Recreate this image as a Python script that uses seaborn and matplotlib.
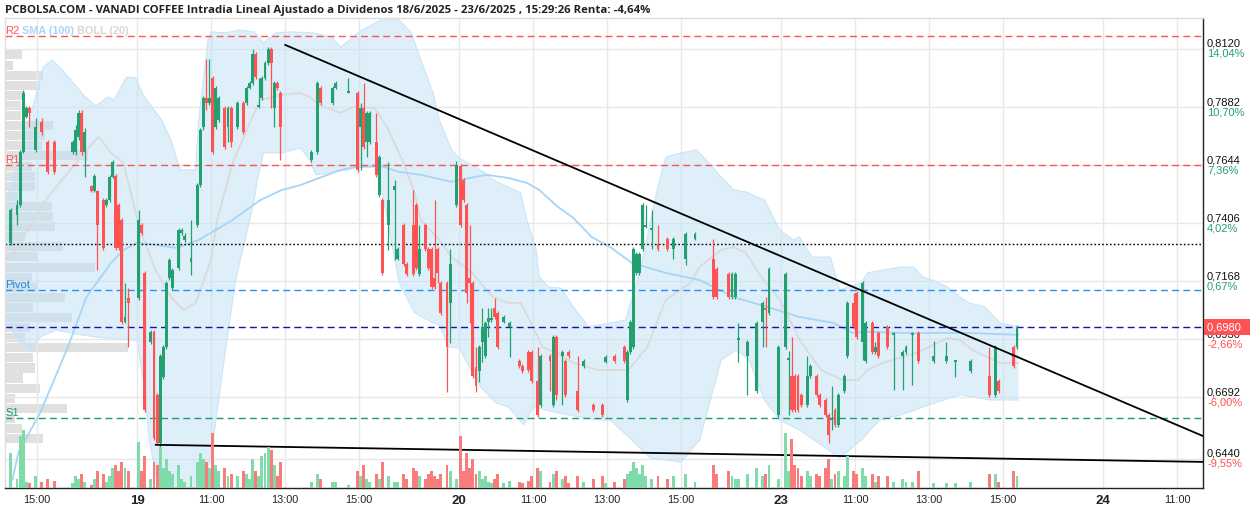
import numpy as np
import pandas as pd
import matplotlib
matplotlib.use("Agg")
import matplotlib.pyplot as plt
from matplotlib import transforms
import seaborn as sns

# ---------------------------------------------------------------- data
candle_time = [
    # 18/6
    "18 14:15", "18 14:25", "18 14:30", "18 14:35", "18 14:40", "18 14:45", "18 14:55", "18 15:05", "18 15:15",
    "18 15:25", "18 15:55", "18 16:00", "18 16:05", "18 16:10", "18 16:15", "18 16:25", "18 16:30", "18 16:35",
    "18 16:45", "18 16:50", "18 16:55", "18 17:00", "18 17:05", "18 17:10", "18 17:15", "18 17:20", "18 17:25",
    # 19/6
    "19 09:00", "19 09:05", "19 09:10", "19 09:20", "19 09:25", "19 09:30", "19 09:35", "19 09:40", "19 09:45",
    "19 09:50", "19 09:55", "19 10:05", "19 10:10", "19 10:15", "19 10:25", "19 10:35", "19 10:40", "19 10:45",
    "19 10:50", "19 10:55", "19 11:00", "19 11:05", "19 11:10", "19 11:20", "19 11:25", "19 11:30", "19 11:40",
    "19 11:50", "19 11:55", "19 12:00", "19 12:05", "19 12:10", "19 12:15", "19 12:20", "19 12:25", "19 12:30",
    "19 12:35", "19 12:40", "19 12:45", "19 12:50", "19 13:40", "19 13:50", "19 13:55", "19 14:15", "19 14:20",
    "19 14:40", "19 14:55", "19 15:00", "19 15:05", "19 15:10", "19 15:15", "19 15:25", "19 15:30", "19 15:35",
    "19 15:45", "19 15:55", "19 16:00", "19 16:10", "19 16:15", "19 16:25", "19 16:30", "19 16:35", "19 16:45",
    "19 16:50", "19 16:55", "19 17:00", "19 17:05", "19 17:10", "19 17:20", "19 17:25", "19 17:35",
    # 20/6
    "20 09:00", "20 09:05", "20 09:10", "20 09:15", "20 09:20", "20 09:25", "20 09:30", "20 09:35", "20 09:40",
    "20 09:45", "20 09:50", "20 09:55", "20 10:00", "20 10:10", "20 10:20", "20 10:35", "20 10:40", "20 10:50",
    "20 10:55", "20 11:05", "20 11:10", "20 11:25", "20 11:30", "20 11:35", "20 11:45", "20 11:50", "20 11:55",
    "20 12:10", "20 12:20", "20 12:35", "20 12:50", "20 12:55", "20 13:10", "20 13:25", "20 13:30", "20 13:35",
    "20 13:40", "20 13:45", "20 13:50", "20 13:55", "20 14:00", "20 14:10", "20 14:20", "20 14:35", "20 14:45",
    "20 15:05", "20 15:20", "20 15:50", "20 15:55", "20 16:15", "20 16:20", "20 16:25", "20 16:30", "20 16:45",
    "20 17:00", "20 17:10", "20 17:15", "20 17:20", "20 17:35",
    # 23/6
    "23 09:05", "23 09:10", "23 09:15", "23 09:20", "23 09:25", "23 09:30", "23 09:40", "23 09:45", "23 09:55",
    "23 10:00", "23 10:10", "23 10:15", "23 10:20", "23 10:25", "23 10:30", "23 10:40", "23 10:45", "23 10:55",
    "23 11:00", "23 11:10", "23 11:15", "23 11:25", "23 11:30", "23 11:35", "23 11:50", "23 12:00", "23 12:15",
    "23 12:20", "23 12:30", "23 12:40", "23 13:05", "23 13:25", "23 13:40", "23 14:05", "23 14:35", "23 14:45",
    "23 14:50", "23 15:15", "23 15:20",
]

open_price = [
    0.7325, 0.7439, 0.7481, 0.7698, 0.7841, 0.7878, 0.7706, 0.7821, 0.7739, 0.7739, 0.7698, 0.7698, 0.7759, 0.7858,
    0.7698, 0.7558, 0.7538, 0.7538, 0.7501, 0.7481, 0.7501, 0.7595, 0.7599, 0.7481, 0.7419, 0.7001, 0.7099,
    0.7099, 0.7399, 0.7202, 0.6919, 0.6960, 0.6702, 0.6505, 0.6775, 0.6898, 0.7181, 0.7140, 0.7222, 0.7366, 0.7337,
    0.7247, 0.7399, 0.7562, 0.7801, 0.7919, 0.7899, 0.8001, 0.7801, 0.7829, 0.7878, 0.7801, 0.7878, 0.7801, 0.7899,
    0.7899, 0.7960, 0.7981, 0.8100, 0.7882, 0.7919, 0.8001, 0.8063, 0.8120, 0.7878, 0.7981, 0.7940, 0.7665, 0.7698,
    0.7960, 0.7899, 0.7960, 0.7940, 0.7940, 0.7801, 0.7878, 0.7739, 0.7739, 0.7739, 0.7521, 0.7501, 0.7399, 0.7542,
    0.7259, 0.7399, 0.7239, 0.7399, 0.7481, 0.7198, 0.7399, 0.7300, 0.7300, 0.7181, 0.7300, 0.7161, 0.7161, 0.7079,
    0.7481,
    0.7640, 0.7583, 0.7481, 0.7181, 0.7161, 0.6816, 0.6800, 0.6919, 0.6861, 0.7001, 0.7009, 0.7058, 0.7038, 0.7001,
    0.6980, 0.6841, 0.6820, 0.6878, 0.6878, 0.6759, 0.6661, 0.6861, 0.6661, 0.6939, 0.6861, 0.6841, 0.6878, 0.6718,
    0.6820, 0.6661, 0.6661, 0.6837, 0.6861, 0.6898, 0.6681, 0.6878, 0.6898, 0.7202, 0.7202, 0.7300, 0.7390, 0.7378,
    0.7321, 0.7341, 0.7300, 0.7259, 0.7341, 0.7259, 0.7218, 0.7198, 0.7103, 0.7103, 0.6927, 0.6861, 0.6718, 0.7001,
    0.7058, 0.7038, 0.6620,
    0.6898, 0.6845, 0.6779, 0.6779, 0.6779, 0.6702, 0.6661, 0.6779, 0.6779, 0.6702, 0.6681, 0.6620, 0.6599, 0.6640,
    0.6579, 0.6718, 0.6861, 0.7079, 0.7120, 0.6919, 0.6841, 0.6997, 0.6878, 0.6956, 0.6980, 0.6948, 0.6861, 0.6878,
    0.6948, 0.6956, 0.6841, 0.6841, 0.6837, 0.6800, 0.6779, 0.6702, 0.6759, 0.6898, 0.6898,
]

high_price = [
    0.7468, 0.7501, 0.7706, 0.7952, 0.7886, 0.7886, 0.7837, 0.7837, 0.7747, 0.7747, 0.7747, 0.7809, 0.7870, 0.7870,
    0.7796, 0.7562, 0.7608, 0.7542, 0.7509, 0.7509, 0.7604, 0.7665, 0.7608, 0.7489, 0.7427, 0.7161, 0.7140,
    0.7460, 0.7407, 0.7210, 0.6968, 0.6968, 0.6710, 0.6870, 0.6907, 0.7169, 0.7263, 0.7222, 0.7386, 0.7386, 0.7366,
    0.7419, 0.7571, 0.7796, 0.7927, 0.8079, 0.8079, 0.8009, 0.7968, 0.7927, 0.7886, 0.7886, 0.7886, 0.7907, 0.7907,
    0.7968, 0.7989, 0.8120, 0.8108, 0.8001, 0.8009, 0.8071, 0.8128, 0.8128, 0.7989, 0.7989, 0.7948, 0.7706, 0.7989,
    0.7968, 0.7968, 0.7989, 0.8001, 0.7948, 0.7899, 0.7981, 0.7866, 0.7866, 0.7858, 0.7686, 0.7509, 0.7657, 0.7583,
    0.7308, 0.7407, 0.7247, 0.7542, 0.7489, 0.7399, 0.7407, 0.7308, 0.7308, 0.7501, 0.7308, 0.7169, 0.7169, 0.7300,
    0.7661,
    0.7649, 0.7591, 0.7489, 0.7399, 0.7169, 0.6898, 0.6907, 0.7058, 0.7005, 0.7058, 0.7058, 0.7099, 0.7046, 0.7030,
    0.7005, 0.6849, 0.6829, 0.6886, 0.6886, 0.6898, 0.6870, 0.6870, 0.6948, 0.6948, 0.6886, 0.6849, 0.6886, 0.6861,
    0.6849, 0.6669, 0.6669, 0.6866, 0.6870, 0.6907, 0.6886, 0.7009, 0.7308, 0.7288, 0.7288, 0.7489, 0.7481, 0.7460,
    0.7399, 0.7349, 0.7349, 0.7370, 0.7370, 0.7341, 0.7226, 0.7206, 0.7206, 0.7206, 0.6997, 0.6927, 0.7005, 0.7087,
    0.7103, 0.7226, 0.6907,
    0.7206, 0.6882, 0.6939, 0.6788, 0.6788, 0.6710, 0.6861, 0.6829, 0.6788, 0.6710, 0.6690, 0.6628, 0.6739, 0.6649,
    0.6710, 0.6788, 0.7087, 0.7120, 0.7128, 0.7169, 0.7005, 0.7005, 0.6919, 0.6964, 0.6989, 0.6960, 0.6886, 0.6907,
    0.6960, 0.6964, 0.6923, 0.6919, 0.6845, 0.6849, 0.6898, 0.6907, 0.6767, 0.6907, 0.6989,
]

low_price = [
    0.7317, 0.7399, 0.7472, 0.7694, 0.7837, 0.7801, 0.7698, 0.7767, 0.7608, 0.7608, 0.7690, 0.7686, 0.7747, 0.7686,
    0.7595, 0.7534, 0.7534, 0.7214, 0.7296, 0.7472, 0.7493, 0.7591, 0.7296, 0.7296, 0.6993, 0.6997, 0.6898,
    0.7091, 0.7358, 0.6632, 0.6911, 0.6517, 0.6497, 0.6443, 0.6767, 0.6890, 0.7173, 0.7132, 0.7214, 0.7358, 0.7329,
    0.7194, 0.7390, 0.7554, 0.7788, 0.7870, 0.7891, 0.7690, 0.7792, 0.7821, 0.7710, 0.7739, 0.7718, 0.7792, 0.7772,
    0.7891, 0.7956, 0.7972, 0.7997, 0.7878, 0.7911, 0.7993, 0.8055, 0.7878, 0.7801, 0.7952, 0.7665, 0.7657, 0.7690,
    0.7891, 0.7891, 0.7956, 0.7940, 0.7616, 0.7624, 0.7710, 0.7677, 0.7731, 0.7595, 0.7513, 0.7194, 0.7296, 0.7255,
    0.7255, 0.7230, 0.7190, 0.7190, 0.7214, 0.7190, 0.7292, 0.7214, 0.7136, 0.7136, 0.7161, 0.7030, 0.6714, 0.6915,
    0.7472,
    0.7390, 0.7493, 0.7079, 0.6997, 0.6771, 0.6714, 0.6755, 0.6837, 0.6853, 0.6939, 0.7001, 0.7013, 0.6890, 0.6997,
    0.6857, 0.6812, 0.6792, 0.6796, 0.6751, 0.6612, 0.6653, 0.6718, 0.6653, 0.6681, 0.6661, 0.6694, 0.6853, 0.6632,
    0.6812, 0.6632, 0.6612, 0.6833, 0.6833, 0.6833, 0.6673, 0.6870, 0.6890, 0.7194, 0.7194, 0.7292, 0.7386, 0.7300,
    0.7292, 0.7292, 0.7259, 0.7235, 0.7337, 0.7095, 0.7095, 0.7095, 0.7095, 0.7095, 0.6837, 0.6702, 0.6710, 0.6898,
    0.6898, 0.7030, 0.6612,
    0.6890, 0.6620, 0.6632, 0.6632, 0.6632, 0.6653, 0.6653, 0.6771, 0.6694, 0.6653, 0.6612, 0.6505, 0.6558, 0.6570,
    0.6570, 0.6710, 0.6853, 0.6972, 0.6931, 0.6845, 0.6833, 0.6870, 0.6870, 0.6853, 0.6890, 0.6722, 0.6722, 0.6870,
    0.6743, 0.6833, 0.6833, 0.6833, 0.6775, 0.6792, 0.6694, 0.6694, 0.6710, 0.6812, 0.6890,
]

close_price = [
    0.7460, 0.7481, 0.7698, 0.7940, 0.7878, 0.7858, 0.7801, 0.7780, 0.7616, 0.7616, 0.7739, 0.7788, 0.7858, 0.7698,
    0.7780, 0.7538, 0.7599, 0.7399, 0.7304, 0.7501, 0.7595, 0.7657, 0.7304, 0.7304, 0.7001, 0.7021, 0.7079,
    0.7419, 0.7366, 0.6640, 0.6960, 0.6525, 0.6505, 0.6861, 0.6898, 0.7161, 0.7255, 0.7214, 0.7378, 0.7378, 0.7353,
    0.7263, 0.7562, 0.7788, 0.7919, 0.7899, 0.7919, 0.7698, 0.7960, 0.7919, 0.7718, 0.7878, 0.7739, 0.7899, 0.7780,
    0.7960, 0.7981, 0.8100, 0.8005, 0.7891, 0.8001, 0.8063, 0.8120, 0.8063, 0.7981, 0.7960, 0.7801, 0.7698, 0.7981,
    0.7899, 0.7960, 0.7981, 0.7948, 0.7624, 0.7878, 0.7718, 0.7858, 0.7858, 0.7604, 0.7677, 0.7202, 0.7501, 0.7558,
    0.7300, 0.7239, 0.7198, 0.7198, 0.7222, 0.7300, 0.7300, 0.7222, 0.7144, 0.7144, 0.7202, 0.7038, 0.6898, 0.7239,
    0.7645,
    0.7399, 0.7501, 0.7120, 0.7161, 0.6779, 0.6739, 0.6898, 0.6980, 0.6997, 0.7017, 0.7017, 0.7021, 0.6898, 0.7021,
    0.6997, 0.6820, 0.6800, 0.6804, 0.6759, 0.6620, 0.6861, 0.6841, 0.6939, 0.6702, 0.6878, 0.6702, 0.6861, 0.6640,
    0.6841, 0.6640, 0.6620, 0.6857, 0.6841, 0.6841, 0.6878, 0.7001, 0.7300, 0.7280, 0.7280, 0.7481, 0.7399, 0.7386,
    0.7300, 0.7300, 0.7341, 0.7362, 0.7362, 0.7103, 0.7103, 0.7103, 0.7198, 0.7198, 0.6935, 0.6919, 0.6997, 0.7079,
    0.7050, 0.7218, 0.6898,
    0.7198, 0.6853, 0.6640, 0.6640, 0.6640, 0.6661, 0.6779, 0.6820, 0.6702, 0.6661, 0.6620, 0.6537, 0.6607, 0.6579,
    0.6702, 0.6779, 0.7079, 0.6980, 0.6939, 0.7161, 0.6997, 0.6878, 0.6898, 0.6861, 0.6898, 0.6956, 0.6878, 0.6898,
    0.6956, 0.6841, 0.6861, 0.6861, 0.6845, 0.6841, 0.6702, 0.6898, 0.6718, 0.6820, 0.6980,
]

volume = [
    60, 15, 90, 100, 10, 8, 20, 10, 15, 12, 8, 20, 15, 25, 10, 6, 15, 30, 25, 10, 20, 35, 40, 30, 45, 35, 30,
    80, 30, 55, 15, 45, 40, 70, 35, 50, 30, 25, 40, 15, 10, 20, 45, 60, 50, 45, 35, 95, 40, 30, 35, 20, 25, 20, 30,
    25, 15, 50, 30, 20, 55, 60, 70, 65, 40, 20, 45, 10, 25, 15, 10, 10, 5, 30, 20, 40, 15, 10, 25, 15, 45, 20, 10,
    10, 25, 15, 35, 30, 20, 15, 25, 30, 20, 15, 25, 40, 30, 15,
    90, 30, 60, 35, 50, 25, 30, 15, 20, 10, 8, 15, 25, 8, 12, 10, 8, 12, 20, 35, 30, 10, 25, 30, 15, 20, 8, 20, 10,
    15, 20, 8, 10, 15, 25, 30, 45, 35, 25, 40, 20, 15, 20, 15, 20, 25, 10, 40, 25, 30, 20, 15, 15, 25, 35, 20, 25,
    40, 15,
    95, 30, 85, 40, 35, 20, 30, 20, 25, 20, 35, 50, 15, 25, 30, 20, 55, 30, 25, 35, 20, 25, 10, 20, 20, 10, 15, 10,
    10, 30, 8, 8, 8, 10, 25, 25, 10, 30, 20,
]

# Bollinger (20) envelope and middle line, SMA (100)
bb_upper_time = [
    "18 14:10", "18 14:25", "18 14:40", "18 14:55", "18 15:10", "18 15:25", "18 15:55", "18 16:15", "18 16:35",
    "18 16:55", "18 17:05", "18 17:25", "18 17:40", "19 09:10", "19 09:25", "19 09:40", "19 09:55", "19 10:10",
    "19 10:35", "19 10:40", "19 10:55", "19 11:00", "19 11:25", "19 11:45", "19 12:10", "19 12:25", "19 12:45",
    "19 13:10", "19 13:45", "19 14:15", "19 14:30", "19 14:45", "19 15:00", "19 15:35", "19 16:05", "19 16:25",
    "19 16:40", "19 17:00", "19 17:10", "19 17:30", "20 09:00", "20 09:40", "20 09:55", "20 10:40", "20 10:50",
    "20 11:05", "20 11:10", "20 11:25", "20 11:45", "20 12:05", "20 12:30", "20 13:05", "20 13:30", "20 13:55",
    "20 14:20", "20 14:35", "20 15:00", "20 15:25", "20 15:45", "20 16:05", "20 16:25", "20 16:45", "20 17:15",
    "20 17:40", "23 09:20", "23 09:30", "23 09:50", "23 10:20", "23 10:35", "23 11:10", "23 11:20", "23 11:45",
    "23 12:15", "23 12:35", "23 12:50", "23 13:05", "23 13:30", "23 13:50", "23 14:05", "23 14:30", "23 14:55",
    "23 15:25",
]
bb_upper = [
    0.7501, 0.7624, 0.7767, 0.7899, 0.8046, 0.8075, 0.7993, 0.7931, 0.7886, 0.7923, 0.7911, 0.8005, 0.8001,
    0.7931, 0.7878, 0.7829, 0.7747, 0.7624, 0.7624, 0.7829, 0.8157, 0.8190, 0.8186, 0.8198, 0.8190, 0.8145,
    0.8186, 0.8190, 0.8186, 0.8169, 0.8128, 0.8157, 0.8190, 0.8239, 0.8239, 0.8186, 0.8075, 0.7940, 0.7829,
    0.7706, 0.7673, 0.7616, 0.7583, 0.7530, 0.7419, 0.7296, 0.7185, 0.7144, 0.7140, 0.7063, 0.6980, 0.6997,
    0.7009, 0.7226, 0.7530, 0.7677, 0.7694, 0.7706, 0.7653, 0.7595, 0.7542, 0.7534, 0.7501, 0.7378, 0.7337,
    0.7349, 0.7267, 0.7267, 0.7132, 0.7161, 0.7202, 0.7214, 0.7226, 0.7226, 0.7185, 0.7173, 0.7144, 0.7103,
    0.7079, 0.7063, 0.6997, 0.6980,
]

bb_lower_time = [
    "18 14:10", "18 14:30", "18 14:50", "18 15:05", "18 15:30", "18 16:10", "18 16:50", "18 17:30", "19 09:00",
    "19 09:10", "19 09:20", "19 09:35", "19 10:10", "19 10:40", "19 10:55", "19 11:05", "19 11:25", "19 11:40",
    "19 12:10", "19 12:15", "19 12:25", "19 12:55", "19 13:25", "19 13:40", "19 13:50", "19 14:10", "19 14:40",
    "19 15:00", "19 15:30", "19 15:40", "19 16:05", "19 16:30", "19 17:00", "19 17:10", "19 17:25", "20 09:00",
    "20 09:35", "20 10:00", "20 10:20", "20 10:45", "20 11:00", "20 11:40", "20 12:15", "20 12:45", "20 13:05",
    "20 13:40", "20 14:10", "20 15:00", "20 15:30", "20 16:05", "20 16:30", "20 16:50", "20 17:15", "20 17:40",
    "23 09:30", "23 10:05", "23 10:35", "23 11:10", "23 11:40", "23 12:15", "23 13:00", "23 13:50", "23 14:40",
    "23 15:25",
]
bb_lower = [
    0.7009, 0.6915, 0.6878, 0.6939, 0.6968, 0.6948, 0.6935, 0.6927, 0.6927, 0.6763, 0.6517, 0.6312, 0.6250,
    0.6312, 0.6394, 0.6546, 0.6915, 0.7173, 0.7501, 0.7583, 0.7694, 0.7694, 0.7714, 0.7665, 0.7604, 0.7612,
    0.7624, 0.7636, 0.7636, 0.7501, 0.7161, 0.7038, 0.6997, 0.6989, 0.6898, 0.6894, 0.6734, 0.6669, 0.6652,
    0.6579, 0.6652, 0.6628, 0.6612, 0.6599, 0.6599, 0.6517, 0.6443, 0.6427, 0.6517, 0.6845, 0.6886, 0.6845,
    0.6681, 0.6599, 0.6558, 0.6497, 0.6443, 0.6517, 0.6599, 0.6620, 0.6661, 0.6702, 0.6681, 0.6681,
]

bb_mid_time = [
    "18 14:10", "18 14:25", "18 14:45", "18 15:10", "18 15:50", "18 16:20", "18 16:40", "18 17:00", "18 17:20",
    "19 09:05", "19 09:30", "19 09:55", "19 10:15", "19 10:35", "19 11:00", "19 11:10", "19 11:35", "19 12:05",
    "19 12:20", "19 12:55", "19 13:25", "19 13:40", "19 13:55", "19 14:30", "19 14:50", "19 15:25", "19 15:45",
    "19 16:10", "19 16:30", "19 16:40", "19 17:10", "19 17:30", "20 09:00", "20 09:20", "20 09:35", "20 09:55",
    "20 10:20", "20 10:40", "20 11:00", "20 11:15", "20 11:40", "20 12:05", "20 12:45", "20 13:35", "20 14:05",
    "20 14:35", "20 15:15", "20 15:30", "20 16:05", "20 16:25", "20 16:45", "20 17:10", "20 17:40", "23 09:30",
    "23 10:05", "23 10:40", "23 11:05", "23 11:20", "23 11:45", "23 12:40", "23 13:30", "23 13:50", "23 14:10",
    "23 14:55", "23 15:25",
]
bb_mid = [
    0.7255, 0.7296, 0.7378, 0.7489, 0.7612, 0.7706, 0.7759, 0.7694, 0.7653, 0.7378, 0.7214, 0.7103, 0.7050,
    0.7079, 0.7255, 0.7419, 0.7653, 0.7829, 0.7911, 0.7932, 0.7940, 0.7923, 0.7891, 0.7858, 0.7882, 0.7878,
    0.7800, 0.7665, 0.7530, 0.7419, 0.7337, 0.7267, 0.7243, 0.7206, 0.7161, 0.7103, 0.7079, 0.7079, 0.6980,
    0.6898, 0.6874, 0.6833, 0.6804, 0.6804, 0.6898, 0.7091, 0.7161, 0.7226, 0.7296, 0.7308, 0.7284, 0.7185,
    0.7091, 0.6927, 0.6804, 0.6763, 0.6763, 0.6804, 0.6833, 0.6874, 0.6935, 0.6927, 0.6886, 0.6833, 0.6833,
]

sma_time = [
    "18 14:20", "18 14:30", "18 15:05", "18 15:50", "18 16:20", "18 17:00", "18 17:20", "19 09:00", "19 09:30",
    "19 10:05", "19 10:40", "19 11:35", "19 12:20", "19 12:55", "19 13:25", "19 13:55", "19 14:30", "19 14:55",
    "19 15:35", "19 16:05", "19 16:40", "19 17:30", "20 09:00", "20 09:45", "20 10:20", "20 10:50", "20 11:10",
    "20 11:40", "20 12:05", "20 12:35", "20 13:05", "20 13:40", "20 14:35", "20 15:30", "20 16:25", "20 17:20",
    "23 09:30", "23 10:25", "23 10:55", "23 11:20", "23 12:15", "23 14:00", "23 15:25",
]
sma = [
    0.6353, 0.6468, 0.6628, 0.6898, 0.7103, 0.7243, 0.7296, 0.7325, 0.7317, 0.7304, 0.7337, 0.7419, 0.7501,
    0.7542, 0.7562, 0.7591, 0.7624, 0.7636, 0.7640, 0.7616, 0.7604, 0.7575, 0.7583, 0.7604, 0.7591, 0.7571,
    0.7542, 0.7473, 0.7428, 0.7349, 0.7308, 0.7243, 0.7202, 0.7173, 0.7103, 0.7062, 0.7021, 0.6997, 0.6956,
    0.6960, 0.6956, 0.6956, 0.6948,
]

# volume profile (left)
profile_price = [
    0.8096, 0.8054, 0.8013, 0.7971, 0.7930, 0.7889, 0.7847, 0.7806, 0.7764, 0.7723, 0.7682, 0.7640, 0.7599,
    0.7557, 0.7516, 0.7475, 0.7433, 0.7392, 0.7350, 0.7309, 0.7268, 0.7226, 0.7185, 0.7143, 0.7102, 0.7061,
    0.7019, 0.6978, 0.6936, 0.6895, 0.6854, 0.6812, 0.6771, 0.6729, 0.6688, 0.6647, 0.6605, 0.6564, 0.6522,
]
profile_volume = [
    17, 8, 38, 35, 20, 16, 16, 48, 40, 37, 83, 27, 30, 30, 13, 47, 48, 50, 20, 58, 33, 90, 27, 32, 60, 28, 67,
    25, 20, 123, 28, 30, 18, 35, 10, 62, 10, 17, 38,
]

# levels
level_r2 = 0.8173
level_r1 = 0.7644
level_ref = 0.7320
level_pivot = 0.7131
level_last = 0.6980
level_s1 = 0.6606

# trend lines
trend_down_time = ["19 13:00", "24 11:42"]
trend_down_price = [0.8137, 0.6533]
trend_support_time = ["19 09:30", "24 11:42"]
trend_support_price = [0.6497, 0.6427]

# axes text
price_ticks = [0.8120, 0.7882, 0.7644, 0.7406, 0.7168, 0.6930, 0.6692, 0.6440]
price_labels = ["0,8120", "0,7882", "0,7644", "0,7406", "0,7168", "0,6930", "0,6692", "0,6440"]
pct_labels = ["14,04%", "10,70%", "7,36%", "4,02%", "0,67%", "-2,66%", "-6,00%", "-9,55%"]
x_tick_stamps = ["18 15:00", "19 09:00", "19 11:00", "19 13:00", "19 15:00", "20 09:00", "20 11:00",
                 "20 13:00", "20 15:00", "23 09:00", "23 11:00", "23 13:00", "23 15:00", "24 09:00", "24 11:00"]
x_tick_labels = ["15:00", "19", "11:00", "13:00", "15:00", "20", "11:00", "13:00", "15:00", "23", "11:00",
                 "13:00", "15:00", "24", "11:00"]
title = ("PCBOLSA.COM - VANADI COFFEE Intradia Lineal Ajustado a Dividenos 18/6/2025 - 23/6/2025 , "
         "15:29:26 Renta: -4,64%")

# ---------------------------------------------------------------- helpers
DAY_INDEX = {"18": 0, "19": 1, "20": 2, "23": 3, "24": 4}
SESSION_HOURS = 8.7
BAR = 5 / 60.0


def to_x(stamp):
    day, hm = stamp.split()
    hh, mm = hm.split(":")
    return DAY_INDEX[day] * SESSION_HOURS + int(hh) - 9 + int(mm) / 60.0


sns.set_theme(style="white")
plt.rcParams['font.family'] = ['Liberation Sans', 'DejaVu Sans']

GREEN = "#23a070"
RED = "#ff5252"
VGREEN = "#7fdcaa"
VRED = "#f87c7c"

df = pd.DataFrame({"time": candle_time, "open": open_price, "high": high_price,
                   "low": low_price, "close": close_price, "volume": volume})
df["x"] = [to_x(t) + BAR / 2 for t in df["time"]]
df["up"] = df["close"] >= df["open"]

fig = plt.figure(figsize=(12.57, 5.12), dpi=100)
fig.patch.set_facecolor("white")
W, H = 1257.0, 512.0
ax = fig.add_axes([5 / W, 24 / H, 1198 / W, 470 / H])
ax_prof = ax.twiny()
ax_vol = ax.twinx()
ax_prof.set_zorder(0)
ax.set_zorder(1)
ax_vol.set_zorder(2)
ax.patch.set_visible(False)
ax_vol.patch.set_visible(False)
ax_prof.patch.set_facecolor("white")

x_min, x_max = to_x("18 14:08"), to_x("24 11:42")
y_min, y_max = 0.6320, 0.8247

# volume profile
ax_prof.barh(profile_price, profile_volume, height=0.0037, left=0, color="#e0e0e0", lw=0)
ax_prof.set_xlim(0, 1198)
ax_prof.set_xticks([])
for s in ax_prof.spines.values():
    s.set_visible(False)

# grid
ax.set_xlim(x_min, x_max)
ax.set_ylim(y_min, y_max)
ax.set_yticks(price_ticks)
ax.set_xticks([to_x(s) for s in x_tick_stamps])
ax.set_xticklabels(x_tick_labels)
ax.grid(True, color="#e8e8e8", lw=1)
ax.set_axisbelow(True)
ax.tick_params(axis="y", left=False, right=False, labelleft=False, labelright=False)
ax.tick_params(axis="x", length=0, pad=5, labelsize=7.8, labelcolor="#222222")
for lab, txt in zip(ax.get_xticklabels(), x_tick_labels):
    if ":" not in txt:
        lab.set_fontweight("bold")
        lab.set_fontsize(9.5)

# Bollinger envelope
ux = [to_x(t) for t in bb_upper_time]
lx = [to_x(t) for t in bb_lower_time]
ax.fill(ux + lx[::-1], bb_upper + bb_lower[::-1], color="#bfe1f7", alpha=0.5, lw=0, zorder=1)
ax.plot(ux, bb_upper, color="#c9e5f8", lw=0.8, zorder=1.1)
ax.plot(lx, bb_lower, color="#c9e5f8", lw=0.8, zorder=1.1)
sns.lineplot(x=[to_x(t) for t in bb_mid_time], y=bb_mid, ax=ax, color="#dadada", lw=1.3,
             estimator=None, sort=False, zorder=1.2)
sns.lineplot(x=[to_x(t) for t in sma_time], y=sma, ax=ax, color="#a6d5f7", lw=1.3,
             estimator=None, sort=False, zorder=1.3)

# levels
blend = transforms.blended_transform_factory(ax.transAxes, ax.transData)
ax.axhline(level_r2, color=RED, lw=1, dashes=(5, 3), zorder=1.5)
ax.axhline(level_r1, color=RED, lw=1, dashes=(5, 3), zorder=1.5)
ax.axhline(level_ref, color="black", lw=1, dashes=(1.2, 1.6), zorder=1.5)
ax.axhline(level_pivot, color="#2b8ff0", lw=1, dashes=(5, 3), zorder=1.5)
ax.axhline(level_last, color="#1414a8", lw=1, dashes=(5, 3), zorder=1.5)
ax.axhline(level_s1, color="#1e9c6f", lw=1, dashes=(5, 3), zorder=1.5)
ax.text(0.0005, level_r2, "R2", color=RED, fontsize=8, transform=blend, va="bottom", ha="left")
ax.text(0.0005, level_r1, "R1", color=RED, fontsize=8, transform=blend, va="bottom", ha="left")
ax.text(0.0005, level_pivot, "Pivot", color="#2b80e0", fontsize=8, transform=blend, va="bottom", ha="left")
ax.text(0.0005, level_s1, "S1", color="#1e9c6f", fontsize=8, transform=blend, va="bottom", ha="left")

# candles
colors = np.where(df["up"], GREEN, RED)
ax.vlines(df["x"], df["low"], df["high"], colors=colors, lw=0.9, zorder=3)
body_lo = np.minimum(df["open"], df["close"])
body_h = np.maximum(np.abs(df["close"] - df["open"]), 0.0005)
ax.bar(df["x"], body_h, bottom=body_lo, width=BAR * 0.95, color=colors, lw=0, zorder=3.1)

# trend lines
ax.plot([to_x(t) for t in trend_down_time], trend_down_price, color="black", lw=1.3, zorder=4)
ax.plot([to_x(t) for t in trend_support_time], trend_support_price, color="black", lw=1.3, zorder=4)

# volume
ax_vol.bar(df["x"], df["volume"], width=BAR * 0.95, color=np.where(df["up"], VGREEN, VRED), lw=0)
ax_vol.set_ylim(0, 100 * 470 / 58)
ax_vol.set_yticks([])
for s in ax_vol.spines.values():
    s.set_visible(False)

# spines
for side in ("top", "left"):
    ax.spines[side].set_color("#dddddd")
    ax.spines[side].set_linewidth(1)
for side in ("right", "bottom"):
    ax.spines[side].set_color("#222222")
    ax.spines[side].set_linewidth(1)

# right price labels
lab_x = 1.0 + 4 / 1198
for v, pl, pc in zip(price_ticks, price_labels, pct_labels):
    ax.text(lab_x, v, pl, transform=blend, va="bottom", ha="left", fontsize=8, color="#111111",
            clip_on=False, zorder=5)
    ax.text(lab_x, v, pc, transform=blend, va="top", ha="left", fontsize=8,
            color=(RED if pc.startswith("-") else GREEN), clip_on=False, zorder=5)
ax.text(lab_x, level_last, "0,6980  ", transform=blend, va="center", ha="left", fontsize=8,
        color="white", clip_on=False, zorder=20,
        bbox=dict(boxstyle="square,pad=0.3", fc=RED, ec="none"))

# legend / title
ax.text(17 / 1198, (488 - 31) / 470, "SMA (100)", transform=ax.transAxes, color="#a6d5f7",
        fontsize=7.8, fontweight="bold", va="center", ha="left")
ax.text(72 / 1198, (488 - 31) / 470, "BOLL (20)", transform=ax.transAxes, color="#d6d6d6",
        fontsize=7.8, fontweight="bold", va="center", ha="left")
fig.text(5 / W, 1 - 10 / H, title, fontsize=8.2, fontweight="bold", family=["Open Sans", "DejaVu Sans"],
         color="#222222", va="center", ha="left")

fig.savefig("out.png", dpi=100, facecolor="white")
